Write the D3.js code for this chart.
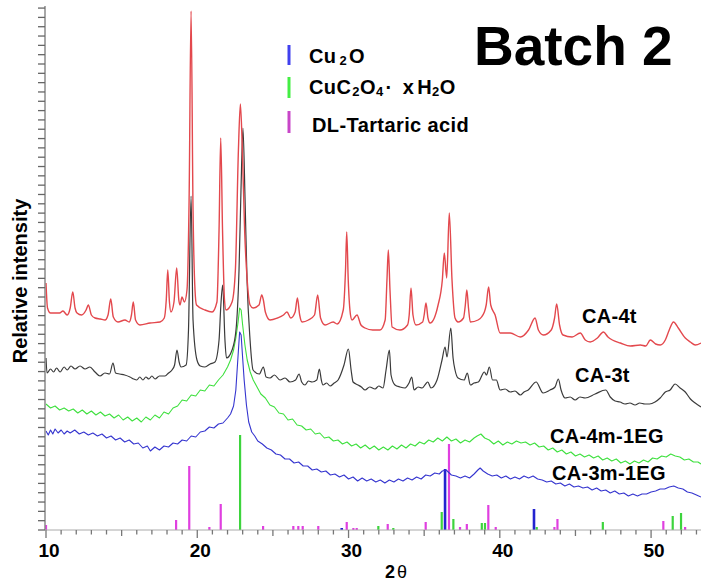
<!DOCTYPE html>
<html>
<head>
<meta charset="utf-8">
<script src="https://cdn.jsdelivr.net/npm/d3@7"></script>
<style>
  body { margin: 0; background: #fff; }
  svg text { font-family: "Liberation Sans", Arial, sans-serif; font-weight: bold; }
</style>
</head>
<body>
<script>
// 2-theta (deg) vs relative intensity (a.u., traces already offset)
const redCA4t = [
  [10.0,247],[10.1,222],[10.3,217],[10.9,217],[11.12,219],[11.4,215],[11.6,222],[11.77,238],[11.92,222],[12.05,217],
  [12.35,215],[12.65,220],[12.8,225],[13.0,215],[13.24,212],[13.6,211],[13.9,210],[14.1,215],[14.28,231],[14.45,213],
  [14.76,208],[15.22,210],[15.5,208],[15.65,215],[15.77,228],[15.92,210],[16.21,205],[16.88,207],[17.54,208],[17.82,212],
  [17.95,230],[18.05,260],[18.16,228],[18.26,218],[18.46,228],[18.64,262],[18.78,230],[18.86,225],[18.99,233],[19.15,228],
  [19.32,240],[19.46,330],[19.59,519],[19.72,320],[19.85,240],[19.95,225],[20.51,220],[20.98,218],[21.3,228],[21.44,300],
  [21.55,392],[21.67,300],[21.8,230],[21.9,220],[22.3,228],[22.52,260],[22.72,380],[22.85,426],[22.98,380],[23.13,300],
  [23.3,250],[23.49,225],[23.69,222],[24.08,225],[24.26,235],[24.37,230],[24.5,218],[24.81,210],[25.3,212],[25.7,215],
  [25.93,218],[26.18,212],[26.47,218],[26.62,232],[26.77,215],[26.93,208],[27.35,210],[27.75,215],[27.96,235],[28.15,212],
  [28.45,205],[28.98,208],[29.25,206],[29.65,220],[29.8,260],[29.88,298],[29.98,250],[30.13,215],[30.23,210],[30.56,215],
  [30.82,205],[31.09,202],[31.6,200],[32.08,200],[32.42,210],[32.54,250],[32.63,280],[32.74,240],[32.88,203],[33.4,200],
  [33.9,205],[34.01,215],[34.13,242],[34.26,215],[34.46,205],[34.9,208],[35.0,215],[35.12,227],[35.25,212],[35.39,207],
  [35.92,225],[36.2,250],[36.33,277],[36.49,252],[36.66,317],[36.84,250],[37.04,212],[37.24,208],[37.6,212],[37.72,225],
  [37.82,240],[37.93,222],[38.05,208],[38.56,210],[38.98,218],[39.1,225],[39.26,243],[39.4,225],[39.69,215],[40.02,197],
  [40.69,197],[41.36,193],[41.9,200],[42.33,212],[42.55,200],[42.88,195],[43.4,200],[43.62,212],[43.76,226],[43.95,205],
  [44.18,195],[44.78,193],[45.32,197],[45.65,190],[45.98,188],[46.45,192],[46.85,198],[47.15,193],[47.44,190],[47.97,187],
  [48.63,184],[49.29,185],[49.65,184],[49.95,190],[50.3,186],[50.61,185],[50.94,190],[51.2,200],[51.48,208],[51.8,202],
  [52.26,192],[52.6,188],[52.92,185],[53.3,187]
];

const blackCA3t = [
  [10.0,172],[10.07,157],[10.3,161],[10.5,158],[10.7,162],[10.93,158],[11.2,163],[11.4,160],[11.65,164],[11.92,161],
  [12.25,164],[12.58,161],[12.9,163],[13.24,158],[13.57,154],[13.9,157],[14.2,156],[14.43,167],[14.6,157],[14.89,156],
  [15.2,155],[15.55,153],[15.8,151],[16.0,150],[16.2,153],[16.41,150],[16.6,153],[16.8,151],[17.0,154],[17.21,151],
  [17.5,154],[17.87,154],[18.1,157],[18.33,160],[18.5,165],[18.66,180],[18.8,168],[18.93,163],[19.26,165],[19.42,200],
  [19.59,334],[19.72,210],[19.98,170],[20.2,164],[20.51,163],[20.85,166],[21.17,168],[21.44,190],[21.56,225],[21.68,245],
  [21.83,190],[21.93,172],[22.3,180],[22.56,200],[22.76,260],[22.89,340],[23.02,402],[23.16,330],[23.29,250],[23.49,190],
  [23.69,160],[24.1,156],[24.37,163],[24.55,153],[24.81,152],[25.1,155],[25.47,150],[25.8,152],[26.13,148],[26.5,150],
  [26.73,156],[26.9,148],[27.12,145],[27.35,149],[27.59,148],[27.9,150],[28.07,161],[28.2,150],[28.31,145],[28.55,147],
  [28.78,144],[29.05,147],[29.31,150],[29.7,165],[29.99,181],[30.17,160],[30.3,148],[30.63,145],[30.85,143],[31.09,140],
  [31.4,143],[31.75,141],[32.0,144],[32.28,142],[32.48,160],[32.7,180],[32.81,155],[33.07,145],[33.4,143],[33.74,142],
  [34.0,147],[34.18,153],[34.33,140],[34.6,143],[34.86,142],[35.1,146],[35.24,148],[35.45,142],[35.85,150],[36.18,170],
  [36.38,183],[36.51,173],[36.76,202],[36.91,172],[37.04,160],[37.24,152],[37.64,150],[37.85,157],[38.05,145],[38.3,147],
  [38.58,148],[38.98,158],[39.12,155],[39.31,163],[39.52,150],[39.77,150],[40.02,140],[40.35,141],[40.69,138],[41.0,139],
  [41.36,135],[41.6,138],[41.88,140],[42.4,148],[42.86,137],[43.32,140],[43.65,143],[43.87,151],[44.05,140],[44.31,132],
  [44.65,133],[44.98,130],[45.3,133],[45.64,132],[46.3,136],[47.0,140],[47.3,133],[47.62,129],[47.95,128],[48.28,126],
  [48.6,127],[48.94,125],[49.25,127],[49.59,126],[49.9,126],[50.26,128],[50.6,132],[50.94,138],[51.26,140],[51.59,146],
  [51.92,142],[52.26,138],[52.6,131],[52.92,127],[53.3,123]
];

const greenCA4m = [
  [10.0,126],[10.3,122],[10.6,124],[10.9,120],[11.2,122],[11.5,119],[11.8,121],[12.1,117],[12.4,120],[12.7,116],
  [13.0,119],[13.3,115],[13.6,118],[13.9,114],[14.2,116],[14.5,112],[14.8,115],[15.1,110],[15.4,113],[15.7,109],
  [16.0,112],[16.3,108],[16.6,113],[16.9,110],[17.2,115],[17.5,112],[17.8,118],[18.1,116],[18.4,122],[18.7,124],
  [19.0,130],[19.3,129],[19.6,135],[19.9,134],[20.2,140],[20.5,139],[20.8,145],[21.1,144],[21.4,150],[21.7,155],
  [22.0,163],[22.2,170],[22.4,180],[22.55,192],[22.7,208],[22.8,222],[22.9,220],[23.0,205],[23.15,185],[23.3,170],
  [23.5,158],[23.7,150],[23.95,143],[24.2,136],[24.5,132],[24.8,125],[25.1,123],[25.4,117],[25.7,116],[26.0,110],
  [26.3,111],[26.6,105],[26.9,104],[27.2,100],[27.5,101],[27.8,96],[28.1,97],[28.4,92],[28.7,93],[29.0,89],
  [29.3,90],[29.6,86],[29.9,88],[30.2,84],[30.5,86],[30.8,82],[31.1,85],[31.4,81],[31.7,84],[32.0,80],
  [32.3,83],[32.6,80],[32.9,84],[33.2,81],[33.5,85],[33.8,82],[34.1,86],[34.4,84],[34.7,88],[35.0,86],
  [35.3,90],[35.6,88],[35.9,92],[36.2,89],[36.5,93],[36.8,89],[37.1,91],[37.4,87],[37.7,90],[38.0,88],
  [38.3,92],[38.5,94],[38.75,96],[39.0,92],[39.3,90],[39.6,86],[39.9,89],[40.2,85],[40.5,88],[40.8,86],
  [41.1,89],[41.4,87],[41.7,88],[42.0,85],[42.3,87],[42.6,83],[42.9,84],[43.2,80],[43.5,82],[43.8,78],
  [44.1,80],[44.4,76],[44.7,78],[45.0,74],[45.3,76],[45.6,73],[45.9,75],[46.2,72],[46.5,74],[46.8,70],
  [47.1,72],[47.4,69],[47.7,71],[48.0,67],[48.3,69],[48.6,66],[48.9,69],[49.2,67],[49.5,70],[49.8,68],
  [50.1,72],[50.4,71],[50.7,74],[51.0,73],[51.3,76],[51.6,74],[51.9,73],[52.2,70],[52.5,71],[52.8,68],
  [53.1,68],[53.3,66]
];

const blueCA3m = [
  [10.0,99],[10.15,95],[10.3,100],[10.45,96],[10.6,101],[10.8,97],[11.0,100],[11.2,96],[11.4,99],[11.6,97],
  [11.9,100],[12.2,96],[12.5,98],[12.8,95],[13.1,97],[13.4,94],[13.7,96],[14.0,92],[14.3,94],[14.6,90],
  [14.9,92],[15.2,88],[15.5,90],[15.8,86],[16.1,87],[16.4,82],[16.7,84],[16.9,79],[17.2,83],[17.5,80],
  [17.8,84],[18.1,83],[18.4,87],[18.7,86],[19.0,90],[19.3,89],[19.6,94],[19.9,93],[20.2,98],[20.5,99],
  [20.8,103],[21.1,102],[21.4,106],[21.7,107],[22.0,112],[22.2,116],[22.4,124],[22.55,140],[22.7,175],[22.8,198],
  [22.9,195],[23.0,172],[23.1,150],[23.25,125],[23.4,108],[23.6,98],[23.8,94],[24.0,89],[24.3,86],[24.6,82],
  [24.9,80],[25.2,76],[25.5,75],[25.8,71],[26.1,71],[26.4,67],[26.7,68],[27.0,64],[27.3,64],[27.6,60],
  [27.9,61],[28.2,58],[28.5,59],[28.8,55],[29.1,56],[29.4,53],[29.7,55],[30.0,51],[30.3,53],[30.6,49],
  [30.9,52],[31.2,49],[31.5,51],[31.8,48],[32.1,50],[32.4,47],[32.7,50],[33.0,48],[33.3,51],[33.6,49],
  [33.9,52],[34.2,50],[34.5,53],[34.8,51],[35.1,55],[35.4,54],[35.7,57],[36.0,56],[36.2,59],[36.45,60],
  [36.8,55],[37.1,54],[37.4,52],[37.7,54],[38.0,52],[38.3,56],[38.55,60],[38.7,62],[38.9,59],[39.2,56],
  [39.5,54],[39.8,55],[40.1,52],[40.4,54],[40.7,51],[41.0,53],[41.3,51],[41.6,54],[41.9,52],[42.2,54],
  [42.5,51],[42.8,50],[43.1,48],[43.4,49],[43.7,46],[44.0,47],[44.3,44],[44.6,46],[44.9,43],[45.2,44],
  [45.5,42],[45.8,43],[46.1,40],[46.4,42],[46.7,39],[47.0,40],[47.3,37],[47.6,39],[47.9,36],[48.2,37],
  [48.5,34],[48.8,36],[49.1,34],[49.4,36],[49.7,36],[50.0,38],[50.3,39],[50.6,41],[50.9,41],[51.2,43],
  [51.5,44],[51.8,42],[52.1,41],[52.4,38],[52.7,37],[53.0,35],[53.3,33]
];

// reference patterns: [2theta, relative height]
const refCu2O = [[29.55,2],[36.38,61],[42.26,21]];
const refOxalate = [[22.83,95],[31.97,4],[32.96,2],[36.16,18],[36.93,11],[38.81,7],[39.02,7],[42.44,3],[46.81,8],[51.43,14],[51.98,17]];
const refTartaric = [[10.0,5],[18.6,10],[19.47,64],[20.8,3],[21.55,26],[24.35,4],[26.35,4],[26.68,4],[26.97,4],[28.0,4],
  [29.88,8],[30.32,2],[30.54,2],[32.59,6],[35.1,8],[36.64,86],[37.37,3],[37.82,6],[39.24,25],[39.73,3],
  [43.61,3],[43.81,11],[50.81,9],[52.25,3]];

const xMajorTicks = [10, 20, 30, 40, 50];
const xMinorTicks = d3.range(10, 54, 1);
const yTickStep = 9.32;

const width = 701, height = 587;
const svg = d3.select("body").append("svg")
    .attr("width", width)
    .attr("height", height);

const x = d3.scaleLinear().domain([10, 53.3]).range([46, 701]);
const y = d3.scaleLinear().domain([0, 524]).range([530, 6]);

svg.append("defs").append("clipPath").attr("id", "plot")
  .append("rect").attr("x", 45).attr("y", 0).attr("width", 656).attr("height", 531);

const plot = svg.append("g").attr("clip-path", "url(#plot)");

// reference sticks
function sticks(data, color, w) {
    plot.selectAll(null).data(data).enter().append("line")
        .attr("x1", d => x(d[0])).attr("x2", d => x(d[0]))
        .attr("y1", y(0)).attr("y2", d => y(d[1]))
        .attr("stroke", color).attr("stroke-width", w);
}
sticks(refOxalate, "#3dd43d", 2.2);
sticks(refTartaric, "#e03fe0", 2.2);
sticks(refCu2O, "#2424d0", 2.6);

function trace(data, color, w, curve) {
    const line = d3.line().x(d => x(d[0])).y(d => y(d[1])).curve(curve);
    plot.append("path").datum(data)
        .attr("d", line)
        .attr("fill", "none")
        .attr("stroke", color)
        .attr("stroke-width", w)
        .attr("stroke-linejoin", "round");
}
trace(blueCA3m, "#3535cf", 1.1, d3.curveLinear);
trace(greenCA4m, "#3ee03e", 1.1, d3.curveLinear);
trace(blackCA3t, "#3a3a3a", 1.2, d3.curveMonotoneX);
trace(redCA4t, "#e3484d", 1.4, d3.curveMonotoneX);

// axes
const axisColor = "#8a8a8a";
svg.append("line").attr("x1", 45).attr("x2", 45).attr("y1", y(524)).attr("y2", y(0))
    .attr("stroke", axisColor).attr("stroke-width", 1.5);
svg.selectAll(null).data(d3.range(0, 524, yTickStep)).enter().append("line")
    .attr("x1", 38).attr("x2", 45).attr("y1", d => y(d)).attr("y2", d => y(d))
    .attr("stroke", "#666").attr("stroke-width", 1.3);

svg.append("line").attr("x1", 45).attr("x2", 701).attr("y1", y(0)).attr("y2", y(0))
    .attr("stroke", "#aaa").attr("stroke-width", 1);
svg.selectAll(null).data(xMinorTicks).enter().append("line")
    .attr("x1", d => x(d)).attr("x2", d => x(d))
    .attr("y1", y(0)).attr("y2", d => y(0) + (d % 10 === 0 ? 8 : (d % 5 === 0 ? 6 : 4.5)))
    .attr("stroke", "#777").attr("stroke-width", 1.3);

svg.selectAll(null).data(xMajorTicks).enter().append("text")
    .attr("x", d => x(d) + 3).attr("y", 557)
    .attr("text-anchor", "middle")
    .attr("font-size", 19)
    .text(d => d);

const xl = svg.append("text").attr("x", 396).attr("y", 578).attr("text-anchor", "middle").attr("font-size", 18);
xl.append("tspan").text("2");
xl.append("tspan").attr("font-weight", "normal").attr("dx", 2).text("θ");

svg.append("text")
    .attr("transform", "translate(27,281) rotate(-90)")
    .attr("text-anchor", "middle")
    .attr("font-size", 20)
    .text("Relative intensity");

// title
svg.append("text").attr("x", 474).attr("y", 65).attr("font-size", 55).text("Batch 2");

// legend
const legendBars = [[45, 65, "#4040ee"], [77, 98, "#44ee44"], [111, 133, "#c846c8"]];
legendBars.forEach(b => {
    svg.append("line").attr("x1", 289).attr("x2", 289).attr("y1", b[0]).attr("y2", b[1])
        .attr("stroke", b[2]).attr("stroke-width", 3);
});

const fs = 20, sub = 13;
const l1 = svg.append("text").attr("x", 309).attr("y", 63).attr("font-size", fs).attr("letter-spacing", 0.4);
l1.append("tspan").text("Cu");
l1.append("tspan").attr("font-size", sub).attr("dx", 3).attr("dy", 2).text("2");
l1.append("tspan").attr("dx", 2).attr("dy", -2).text("O");

const l2 = svg.append("text").attr("x", 309).attr("y", 94).attr("font-size", fs).attr("letter-spacing", 0.4);
l2.append("tspan").text("CuC");
l2.append("tspan").attr("font-size", sub).attr("dx", 1).attr("dy", 2).text("2");
l2.append("tspan").attr("dy", -2).text("O");
l2.append("tspan").attr("font-size", sub).attr("dy", 2).text("4");
l2.append("tspan").attr("dy", -2).attr("dx", 2).text("·");
l2.append("tspan").attr("dx", 10).text("x");
l2.append("tspan").attr("dx", 3).text("H");
l2.append("tspan").attr("font-size", sub).attr("dy", 2).text("2");
l2.append("tspan").attr("dy", -2).text("O");

svg.append("text").attr("x", 312).attr("y", 132).attr("font-size", fs).attr("letter-spacing", 0.4).text("DL-Tartaric acid");

// series labels
const seriesLabels = [["CA-4t", 582, 323], ["CA-3t", 575, 382], ["CA-4m-1EG", 550, 443], ["CA-3m-1EG", 552, 480]];
seriesLabels.forEach(s => {
    svg.append("text").attr("x", s[1]).attr("y", s[2]).attr("font-size", 20).attr("letter-spacing", 0.3).text(s[0]);
});
</script>
</body>
</html>
